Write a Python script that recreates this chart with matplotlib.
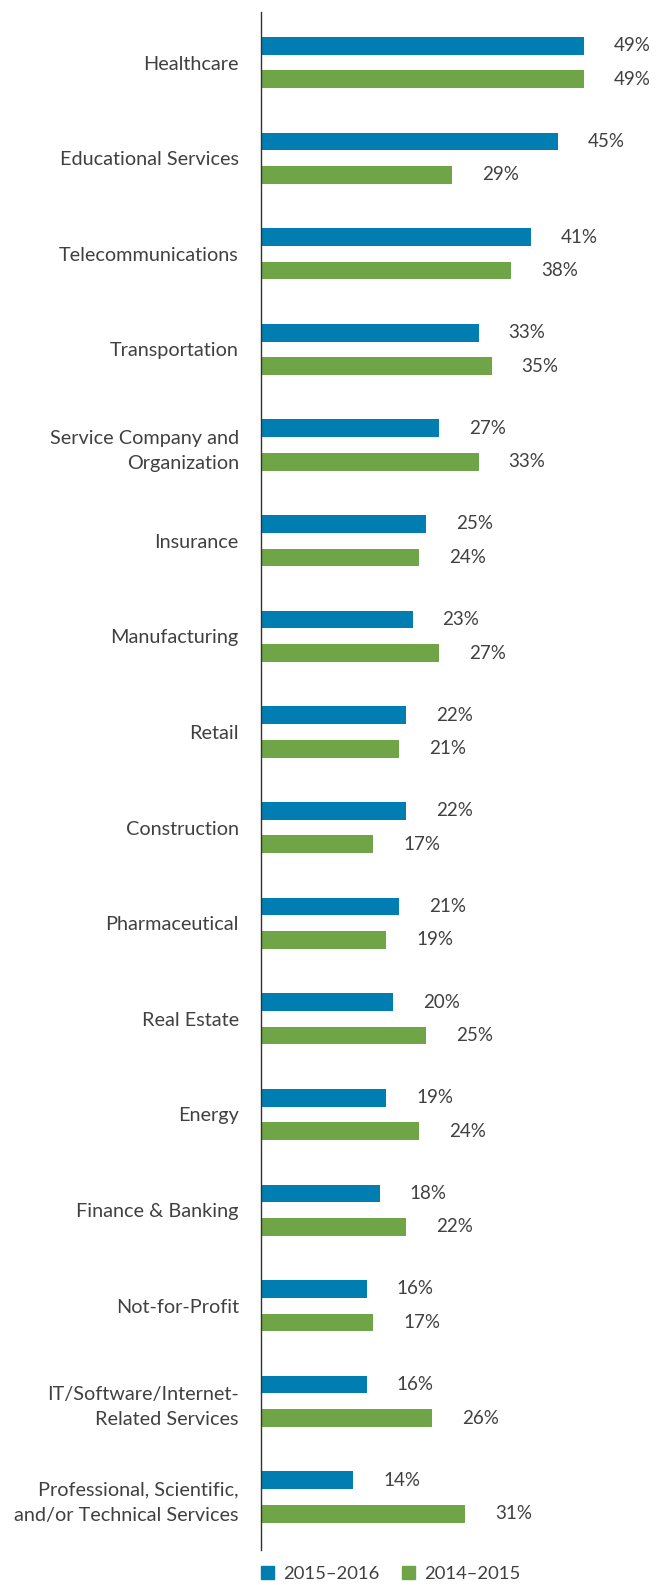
import numpy as np
import matplotlib
matplotlib.use('Agg')
import matplotlib.pyplot as plt
from matplotlib.patches import Patch

plt.rcParams['font.family'] = ['Lato', 'DejaVu Sans']

industries = [
    'Healthcare', 'Educational Services', 'Telecommunications', 'Transportation',
    'Service Company and\nOrganization', 'Insurance', 'Manufacturing', 'Retail',
    'Construction', 'Pharmaceutical', 'Real Estate', 'Energy', 'Finance & Banking',
    'Not-for-Profit', 'IT/Software/Internet-\nRelated Services',
    'Professional, Scientific,\nand/or Technical Services',
]
pct_2015_2016 = [49, 45, 41, 33, 27, 25, 23, 22, 22, 21, 20, 19, 18, 16, 16, 14]
pct_2014_2015 = [49, 29, 38, 35, 33, 24, 27, 21, 17, 19, 25, 24, 22, 17, 26, 31]
series_names = ['2015\u20132016', '2014\u20132015']

BLUE = '#007DB1'
GREEN = '#70A547'
TXT = '#404040'

fig = plt.figure(figsize=(6.56, 15.85), dpi=100)
ax = fig.add_axes([0.398, 0.0221, 0.5825, 0.9703])

y = np.arange(len(industries))
h = 0.185
off = 0.175
ax.barh(y - off, pct_2015_2016, height=h, color=BLUE)
ax.barh(y + off, pct_2014_2015, height=h, color=GREEN)

for yy, v in zip(y - off, pct_2015_2016):
    ax.annotate(f'{v}%', (v, yy), xytext=(21.5, 0), textcoords='offset points',
                ha='left', va='center', fontsize=13.5, color=TXT)
for yy, v in zip(y + off, pct_2014_2015):
    ax.annotate(f'{v}%', (v, yy), xytext=(21.5, 0), textcoords='offset points',
                ha='left', va='center', fontsize=13.5, color=TXT)

ax.set_xlim(0, 58)
ax.set_ylim(15.554, -0.528)
ax.set_yticks(y)
ax.set_yticklabels(industries, fontsize=14.3, color=TXT, ha='right',
                   linespacing=1.58)
ax.tick_params(axis='y', length=0, pad=16)
ax.set_xticks([])
for s in ['top', 'right', 'bottom']:
    ax.spines[s].set_visible(False)
ax.spines['left'].set_color('#333333')
ax.spines['left'].set_linewidth(1.0)

handles = [Patch(color=BLUE, label=series_names[0]),
           Patch(color=GREEN, label=series_names[1])]
fig.legend(handles=handles, loc='center', bbox_to_anchor=(0.5955, 0.0068), ncol=2,
           frameon=False, fontsize=13.3, handlelength=0.7, handleheight=0.7,
           handletextpad=0.5, columnspacing=1.2, labelcolor=TXT)

fig.savefig('out.png', dpi=100)
